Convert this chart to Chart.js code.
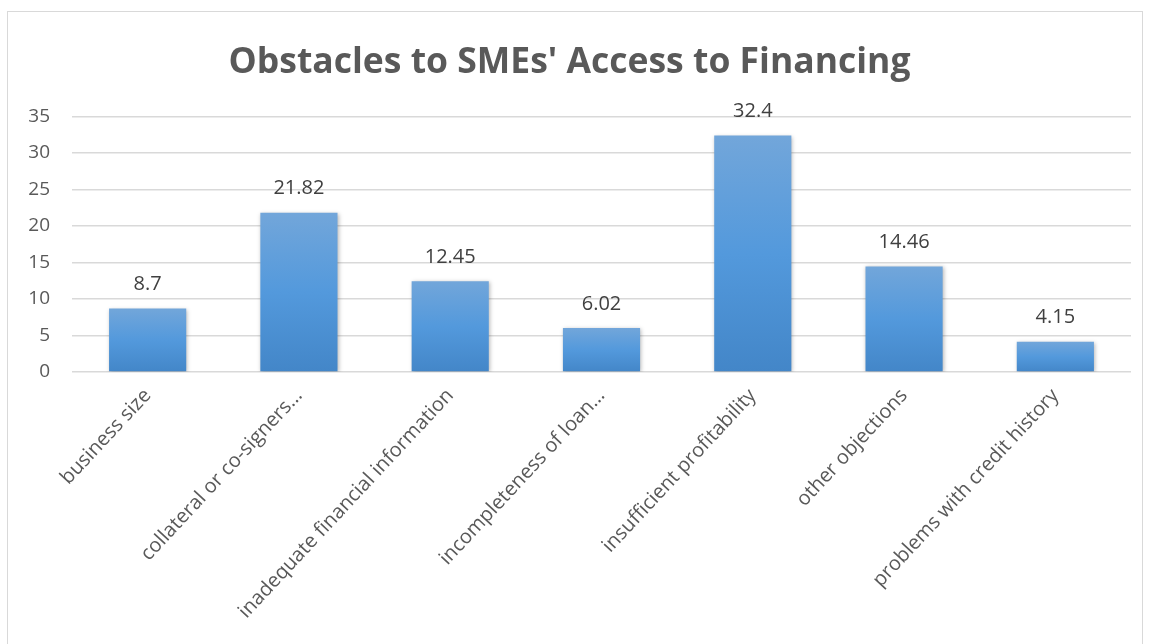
<!DOCTYPE html>
<html>
<head>
<meta charset="utf-8">
<script src="https://cdn.jsdelivr.net/npm/chart.js@4/dist/chart.umd.min.js"></script>
<style>
    html, body { margin: 0; padding: 0; background: #ffffff; }
    #wrap {
        position: absolute;
        left: 7px;
        top: 11px;
        width: 1136px;
        height: 640px;
        border: 1px solid #d9d9d9;
        box-sizing: border-box;
    }
</style>
</head>
<body>
<div id="wrap"><canvas id="barChart"></canvas></div>
<script>
// Obstacles reported by SMEs when applying for financing
const categoryLabels = [
    "business size",
    "collateral or co-signers…",
    "inadequate financial information",
    "incompleteness of loan…",
    "insufficient profitability",
    "other objections",
    "problems with credit history",
];
const obstacleValues = [8.7, 21.82, 12.45, 6.02, 32.4, 14.46, 4.15];
const yTicks = [0, 5, 10, 15, 20, 25, 30, 35];

const fontFamily = "'Open Sans', 'Noto Sans', sans-serif";

// per-bar vertical gradient, lighter at the top like the Office style
function barGradient(context) {
    const chart = context.chart;
    const { ctx, chartArea, scales } = chart;
    if (!chartArea || context.parsed === undefined) return "#5b9bd5";
    const top = scales.y.getPixelForValue(context.parsed.y);
    const bottom = scales.y.getPixelForValue(0);
    const g = ctx.createLinearGradient(0, top, 0, bottom);
    g.addColorStop(0, "#72a6da");
    g.addColorStop(0.5, "#5399dc");
    g.addColorStop(1, "#4386c8");
    return g;
}

const barShadow = {
    id: "barShadow",
    beforeDatasetsDraw(chart) {
        const ctx = chart.ctx;
        ctx.save();
        ctx.shadowColor = "rgba(0, 0, 0, 0.28)";
        ctx.shadowBlur = 4;
        ctx.shadowOffsetX = 1;
        ctx.shadowOffsetY = 1;
    },
    afterDatasetsDraw(chart) {
        chart.ctx.restore();
    },
};

const valueLabels = {
    id: "valueLabels",
    afterDatasetsDraw(chart) {
        const ctx = chart.ctx;
        const meta = chart.getDatasetMeta(0);
        ctx.save();
        ctx.font = "20px " + fontFamily;
        ctx.fillStyle = "#404040";
        ctx.textAlign = "center";
        ctx.textBaseline = "middle";
        meta.data.forEach(function (bar, i) {
            ctx.fillText(String(obstacleValues[i]), bar.x, bar.y - 24);
        });
        ctx.restore();
    },
};

document.addEventListener("DOMContentLoaded", function () {
    const ctxBar = document.getElementById("barChart").getContext("2d");

    const barConfig = {
        type: "bar",
        data: {
            labels: categoryLabels,
            datasets: [
                {
                    label: "Obstacles",
                    data: obstacleValues,
                    backgroundColor: barGradient,
                    borderWidth: 0,
                    categoryPercentage: 1,
                    barPercentage: 0.51,
                },
            ],
        },
        options: {
            responsive: true,
            maintainAspectRatio: false,
            animation: false,
            layout: {
                padding: { left: 0, right: 11, top: 0, bottom: 0 },
            },
            plugins: {
                legend: { display: false },
                tooltip: { enabled: false },
                title: {
                    display: true,
                    text: "Obstacles to SMEs' Access to Financing",
                    color: "#595959",
                    font: { family: fontFamily, size: 35.5, weight: "bold" },
                    padding: { top: 30, bottom: 32 },
                },
            },
            scales: {
                x: {
                    grid: { display: false },
                    border: { display: false },
                    ticks: {
                        color: "#595959",
                        font: { family: fontFamily, size: 20 },
                        maxRotation: 47,
                        minRotation: 47,
                        autoSkip: false,
                        padding: 4,
                    },
                    afterFit: function (scale) {
                        scale.height = 278;
                    },
                },
                y: {
                    min: 0,
                    max: 35,
                    afterBuildTicks: function (scale) {
                        scale.ticks = yTicks.map(function (v) { return { value: v }; });
                    },
                    grid: { color: "#d9d9d9", lineWidth: 1.5, drawTicks: false },
                    border: { display: false },
                    ticks: {
                        color: "#595959",
                        font: { family: fontFamily, size: 19 },
                        padding: 22,
                    },
                    afterFit: function (scale) {
                        scale.width = 64;
                    },
                },
            },
        },
        plugins: [barShadow, valueLabels],
    };

    const barChart = new Chart(ctxBar, barConfig);
});
</script>
</body>
</html>
